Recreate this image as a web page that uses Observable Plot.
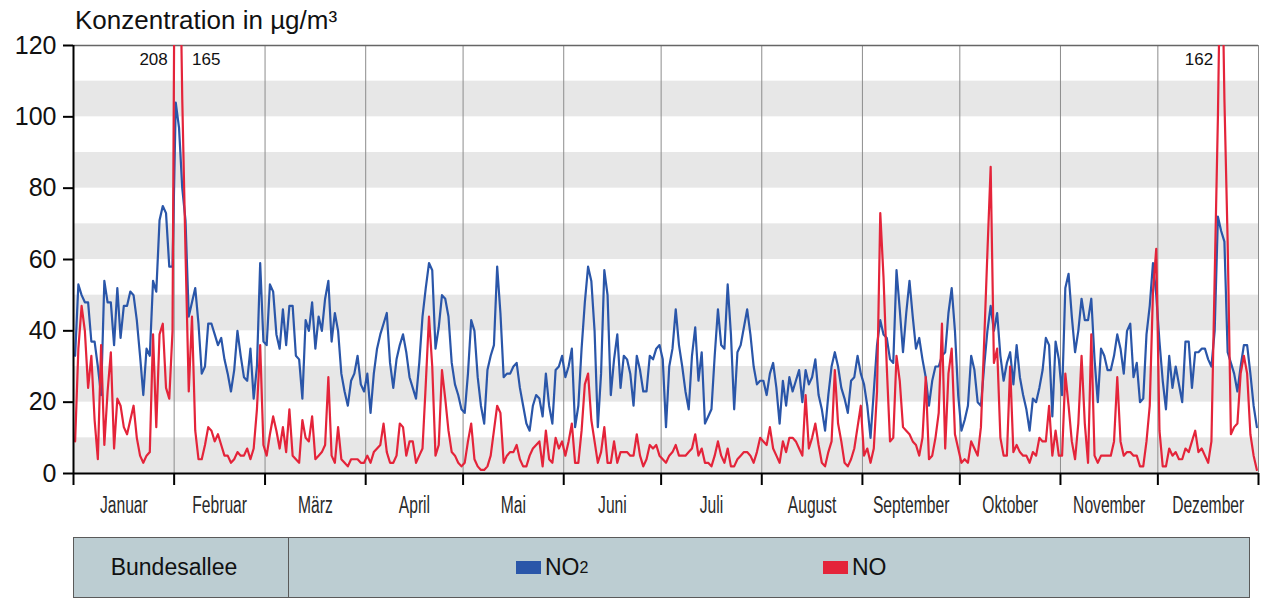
<!DOCTYPE html>
<html>
<head>
<meta charset="utf-8">
<script src="https://cdn.jsdelivr.net/npm/d3@7"></script>
<script src="https://cdn.jsdelivr.net/npm/@observablehq/plot@0.6"></script>
<style>
  body { margin: 0; background: #fff; font-family: "Liberation Sans", Arial, sans-serif; }
  #wrap { position: relative; width: 1263px; height: 599px; overflow: hidden; background: #fff; }
  #title { position: absolute; left: 75px; top: 7px; font-size: 26px; line-height: 26px; color: #111; white-space: nowrap; }
  #chart { position: absolute; left: 0; top: 0; }
  #legend { position: absolute; left: 73px; top: 537px; width: 1177px; height: 61px; box-sizing: border-box;
            background: #bccdd2; border: 1px solid #5a5a5a; font-size: 23px; color: #111; }
  #legend .station { position: absolute; left: 0; top: 0; width: 215px; height: 100%; border-right: 1px solid #5a5a5a;
            display: flex; align-items: center; justify-content: center; padding-right: 14px; box-sizing: border-box; }
  #legend .item { position: absolute; top: 0; height: 100%; display: flex; align-items: center; }
  #legend .swatch { display: inline-block; width: 25px; height: 13px; margin-right: 4px; }
  #legend sub { font-size: 16px; vertical-align: -7px; }
</style>
</head>
<body>
<div id="wrap">
  <div id="chart"></div>
  <div id="title">Konzentration in µg/m³</div>
  <div id="legend">
    <div class="station">Bundesallee</div>
    <div class="item" style="left:442px"><span class="swatch" style="background:#2a56a9"></span>NO<sub>2</sub></div>
    <div class="item" style="left:749px"><span class="swatch" style="background:#e4243a"></span>NO</div>
  </div>
</div>
<script>
// Daily means, Bundesallee, one value per day of the year (µg/m³)
const monthNames = ["Januar", "Februar", "März", "April", "Mai", "Juni", "Juli", "August", "September", "Oktober", "November", "Dezember"];
const monthDays = [31, 28, 31, 30, 31, 30, 31, 31, 30, 31, 30, 31];
const yTicks = [0, 20, 40, 60, 80, 100, 120];
const bandStarts = [0, 20, 40, 60, 80, 100];

// NO2, one line per month
const no2 = [
  33,53,50,48,48,37,37,30,22,54, 48,48,36,52,38,47,47,51,50,43, 33,22,35,33,54,51,71,75,73,58, 58,
  104,97,80,71,44,48,52,42,28,30, 42,42,39,36,38,32,28,23,29,40, 33,27,26,35,21,30,59,37,
  36,53,51,39,35,46,36,47,47,33, 32,21,43,40,48,35,44,40,49,54, 37,45,40,28,23,19,26,28,33,25, 23,
  28,17,28,35,39,42,45,31,24,32, 36,39,34,27,24,21,31,44,52,59, 57,35,41,50,49,44,31,25,22,18,
  17,28,43,40,27,19,14,29,33,36, 58,45,27,28,28,30,31,24,19,14, 12,19,22,21,16,28,19,14,29,30, 33,
  27,30,35,13,19,35,48,58,54,40, 13,28,57,50,22,32,39,24,33,32, 28,19,33,29,23,23,33,32,35,36,
  32,13,30,35,46,36,30,23,18,33, 41,26,34,14,16,18,33,46,36,35, 53,39,18,34,36,41,46,39,30,25, 26,
  26,22,28,31,24,14,26,19,27,23, 26,29,20,29,25,27,32,22,18,12, 22,30,34,30,24,21,17,26,27,33, 28,
  25,19,10,23,36,43,39,38,32,31, 57,46,34,45,54,44,35,38,32,27, 19,26,30,30,33,34,45,52,40,22,
  12,15,19,33,29,20,19,30,40,47, 40,45,33,26,31,34,25,36,27,22, 18,12,21,20,24,29,38,36,16,37, 32,
  22,52,56,44,34,40,49,43,43,49, 32,20,35,33,29,29,33,39,35,28, 40,42,27,31,20,21,39,47,59,50,
  37,26,18,33,24,30,25,20,37,37, 24,34,34,35,35,32,30,40,72,68, 65,34,31,28,23,30,36,36,28,19, 13
];

// NO, one line per month
const no = [
  9,35,47,40,24,33,15,4,36,8, 23,34,7,21,19,13,11,15,19,10, 5,3,5,6,39,13,39,42,24,21, 40,
  208,165,105,62,23,44,12,4,4,8, 13,12,9,11,8,5,5,3,4,6, 5,5,7,4,7,18,36,8,
  5,11,16,12,7,13,6,18,5,4, 3,15,10,9,16,4,5,6,8,27, 5,3,13,4,3,2,4,4,4,3, 3,
  5,3,6,7,8,14,6,3,3,5, 14,13,5,9,9,3,5,7,25,44, 30,5,8,29,21,12,6,5,3,2,
  3,9,14,4,2,1,1,2,5,12, 19,17,3,5,6,6,8,4,2,2, 5,7,8,9,2,12,4,3,10,7, 9,
  5,9,14,3,3,12,25,28,15,9, 3,6,13,3,3,9,3,6,6,6, 5,5,11,5,2,4,8,7,8,5,
  4,3,5,6,8,5,5,5,6,7, 11,5,7,3,3,2,5,9,5,3, 7,2,2,4,5,6,6,5,3,6, 10,
  9,8,13,7,5,3,9,6,10,10, 9,7,5,22,7,10,14,8,3,2, 6,9,29,14,9,3,2,4,7,13, 19,
  5,7,3,7,23,73,55,30,9,10, 33,26,13,12,11,9,8,5,10,27, 4,5,10,17,42,7,28,35,11,7,
  3,4,3,9,7,5,13,37,62,86, 31,35,10,5,5,30,6,8,6,5, 5,3,6,5,10,9,9,19,5,12, 5,
  5,28,19,9,4,14,33,14,3,39, 5,3,5,5,5,5,9,27,9,5, 6,6,5,5,2,2,9,19,51,63,
  12,2,2,7,5,6,4,4,7,6, 9,12,6,7,5,3,9,55,100,162, 105,65,11,13,14,28,33,28,11,5, 1
];

const yMax = 120;
const toRows = (values) => values.map((v, i) => ({day: i + 1, value: v}));
const no2Rows = toRows(no2);
const noRows = toRows(no);

// month boundaries and label positions on a day axis running 0..365
const bounds = [0, ...d3.cumsum(monthDays)];
const months = monthNames.map((name, i) => ({name, mid: (bounds[i] + bounds[i + 1]) / 2}));

// NO values above the frame get their number printed beside the clipped spike
const over = noRows.filter(d => d.value > yMax);
const isOver = (day) => (no[day - 1] ?? 0) > yMax;
const leftLabels = over.filter(d => !(isOver(d.day - 1) && !isOver(d.day + 1)));
const rightLabels = over.filter(d => isOver(d.day - 1) && !isOver(d.day + 1));

const blue = "#2a56a9";
const red = "#e4243a";

const chart = Plot.plot({
  width: 1263,
  height: 530,
  marginLeft: 73,
  marginRight: 5,
  marginTop: 45,
  marginBottom: 57,
  style: {fontFamily: "'Liberation Sans', Arial, sans-serif", background: "transparent", color: "#111"},
  x: {domain: [0, 365], axis: null},
  y: {domain: [0, yMax], axis: null},
  marks: [
    Plot.rect(bandStarts, {y1: d => d, y2: d => d + 10, fill: "#e7e7e7"}),
    Plot.ruleX(bounds.slice(1, -1), {stroke: "#8c8c8c", strokeWidth: 1}),
    Plot.ruleY([yMax], {stroke: "#666", strokeWidth: 1.5}),
    Plot.ruleX([365], {stroke: "#8c8c8c", strokeWidth: 1}),
    Plot.line(no2Rows, {x: d => d.day - 0.5, y: "value", stroke: blue, strokeWidth: 2.2, clip: true}),
    Plot.line(noRows, {x: d => d.day - 0.5, y: "value", stroke: red, strokeWidth: 2.2, clip: true}),
    Plot.ruleX([0], {stroke: "#000", strokeWidth: 2}),
    Plot.ruleY([0], {stroke: "#000", strokeWidth: 2}),
    Plot.axisY(yTicks, {tickSize: 10, tickPadding: 7, fontSize: 25, stroke: "#000", strokeWidth: 2, label: null}),
    Plot.axisX(bounds, {tickSize: 12, tickFormat: () => "", stroke: "#000", strokeWidth: 2, label: null}),
    Plot.text(months, {x: "mid", text: "name", frameAnchor: "bottom", dy: 39, fontSize: 23,
      className: "month-labels", fill: "#2a2a2a"}),
    Plot.text(leftLabels, {x: d => d.day - 0.5, y: yMax, text: d => String(d.value), textAnchor: "end", dx: -8, dy: 14, fontSize: 17}),
    Plot.text(rightLabels, {x: d => d.day - 0.5, y: yMax, text: d => String(d.value), textAnchor: "start", dx: 13, dy: 14, fontSize: 17})
  ]
});

// month names are set in a narrow, tall face: squeeze each label horizontally
d3.select(chart).selectAll(".month-labels text").each(function () {
  const t = this.getAttribute("transform");
  if (t) {
    this.setAttribute("transform", t + " scale(0.68,1)");
  } else {
    const x = +this.getAttribute("x") || 0, y = +this.getAttribute("y") || 0;
    this.setAttribute("transform", `translate(${x},${y}) scale(0.68,1)`);
    this.setAttribute("x", 0);
    this.setAttribute("y", 0);
  }
});
document.getElementById("chart").append(chart);
</script>
</body>
</html>
